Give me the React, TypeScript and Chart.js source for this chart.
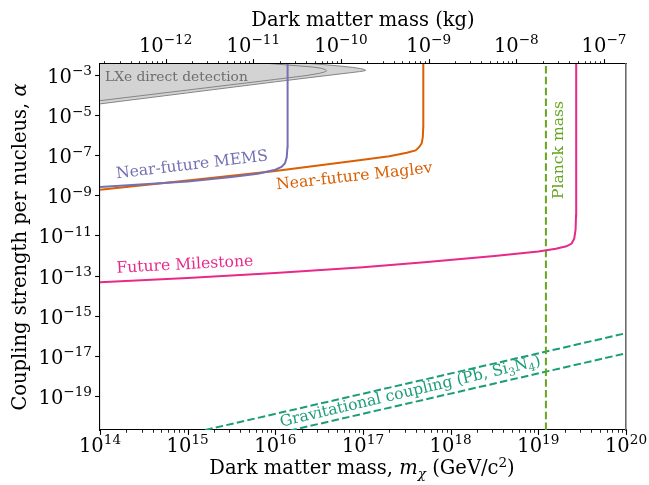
import React, { useEffect, useRef } from "react";
import { Chart, registerables } from "chart.js";

Chart.register(...registerables);

const W = 649;
const H = 485;
const SERIF = '"DejaVu Serif", "Liberation Serif", serif';
const GEV_TO_KG = 1.78266192e-27;

// axis ranges (log10)
const massMinExp = 14;
const massMaxExp = 20;
const alphaMinExp = -20.695;
const alphaMaxExp = -2.452;

// tick labels
const massTickExps = [14, 15, 16, 17, 18, 19, 20];
const kgTickExps = [-12, -11, -10, -9, -8, -7];
const alphaTickExps = [-3, -5, -7, -9, -11, -13, -15, -17, -19];

// Near-future MEMS (log10 GeV, log10 alpha)
const memsLogMass = [14.0, 14.5, 15.0, 15.5, 15.8, 16.0, 16.07, 16.11, 16.13, 16.138, 16.14, 16.14];
const memsLogAlpha = [-8.58, -8.45, -8.31, -8.08, -7.92, -7.72, -7.58, -7.4, -7.1, -6.6, -5.5, -2.0];

// Near-future Maglev
const maglevLogMass = [14.0, 15.0, 16.0, 16.6, 17.0, 17.3, 17.5, 17.6, 17.64, 17.67, 17.682, 17.687, 17.688];
const maglevLogAlpha = [-8.72, -8.26, -7.78, -7.45, -7.23, -7.05, -6.88, -6.76, -6.6, -6.4, -6.1, -5.6, -2.0];

// Future Milestone
const milestoneLogMass = [14.0, 15.0, 16.0, 17.0, 17.7, 18.5, 19.0, 19.2, 19.32, 19.38, 19.41, 19.425, 19.43, 19.432];
const milestoneLogAlpha = [-13.33, -13.12, -12.87, -12.58, -12.33, -12.02, -11.8, -11.66, -11.54, -11.4, -11.15, -10.7, -10.0, -2.0];

// LXe direct detection (outer excluded region, closed shape)
const lxeOuterLogMass = [13.8, 13.8, 14.0, 15.0, 16.0, 16.6, 16.85, 16.96, 17.01, 17.03, 17.02, 16.97, 16.88, 16.75, 16.6, 16.4, 16.1, 15.5, 20.5];
const lxeOuterLogAlpha = [-1.0, -4.55, -4.44, -3.89, -3.34, -3.02, -2.89, -2.83, -2.8, -2.77, -2.73, -2.68, -2.62, -2.56, -2.5, -2.43, -2.3, -2.0, -1.0];

// LXe direct detection (inner contour)
const lxeInnerLogMass = [13.8, 14.0, 15.0, 16.0, 16.35, 16.5, 16.56, 16.585, 16.57, 16.52, 16.42, 16.28, 16.1, 15.8, 15.3];
const lxeInnerLogAlpha = [-4.39, -4.28, -3.75, -3.22, -3.03, -2.92, -2.85, -2.79, -2.73, -2.66, -2.6, -2.55, -2.49, -2.38, -2.15];

// Gravitational coupling lines
const gravPbLogMass = [14, 20];
const gravPbLogAlpha = [-21.9, -15.87];
const gravSiLogMass = [14, 20];
const gravSiLogAlpha = [-22.9, -16.87];

// Planck mass
const planckMassGeV = 1.22e19;
const planckAlphaSpan = [1e-25, 1];

const COLORS = {
  mems: "#7570b3",
  maglev: "#d95f02",
  milestone: "#e7298a",
  planck: "#66a61e",
  grav: "#1b9e77",
  lxeFill: "#d3d3d3",
  lxeEdge: "#858585",
  lxeText: "#6e6e6e",
};

const pts = (xs: number[], ys: number[]) => xs.map((x, i) => ({ x: Math.pow(10, x), y: Math.pow(10, ys[i]) }));

type Run = { text: string; size: number; dy?: number; style?: string };

function setFont(ctx: CanvasRenderingContext2D, r: Run) {
  ctx.font = `${r.style ? r.style + " " : ""}${r.size}px ${SERIF}`;
}

function drawRuns(
  ctx: CanvasRenderingContext2D,
  runs: Run[],
  x: number,
  y: number,
  align: "left" | "center" | "right",
  angleDeg: number,
  color: string
) {
  ctx.save();
  ctx.translate(x, y);
  ctx.rotate((-angleDeg * Math.PI) / 180);
  let w = 0;
  for (const r of runs) {
    setFont(ctx, r);
    w += ctx.measureText(r.text).width;
  }
  let cx = align === "left" ? 0 : align === "center" ? -w / 2 : -w;
  ctx.fillStyle = color;
  ctx.textAlign = "left";
  ctx.textBaseline = "alphabetic";
  for (const r of runs) {
    setFont(ctx, r);
    ctx.fillText(r.text, cx, -(r.dy || 0));
    cx += ctx.measureText(r.text).width;
  }
  ctx.restore();
}

const TICK_FONT = 19.5;
const EXP_FONT = 13.6;
const EXP_RAISE = 7.5;
const LABEL_FONT = 15.6;

const expText = (e: number) => (e < 0 ? "\u2212" + Math.abs(e) : String(e));
const powRuns = (e: number): Run[] => [
  { text: "10", size: TICK_FONT },
  { text: expText(e), size: EXP_FONT, dy: EXP_RAISE },
];

const decorPlugin = {
  id: "decor",
  beforeDraw(chart: any) {
    const ctx = chart.ctx as CanvasRenderingContext2D;
    ctx.save();
    ctx.fillStyle = "#ffffff";
    ctx.fillRect(0, 0, chart.width, chart.height);
    ctx.restore();
  },
  afterDraw(chart: any) {
    const ctx = chart.ctx as CanvasRenderingContext2D;
    const xs = chart.scales.x;
    const ys = chart.scales.y;
    const x2 = chart.scales.x2;
    const a = chart.chartArea;
    const MAJ = 4.9;
    const MIN = 2.8;
    ctx.save();
    ctx.strokeStyle = "#000";
    // bottom ticks
    for (let e = massMinExp; e <= massMaxExp; e++) {
      for (let k = 1; k <= 9; k++) {
        const v = k * Math.pow(10, e);
        if (v > Math.pow(10, massMaxExp) * 1.0001) continue;
        const px = Math.round(xs.getPixelForValue(v)) + 0.5;
        ctx.lineWidth = k === 1 ? 1.1 : 0.85;
        ctx.beginPath();
        ctx.moveTo(px, a.bottom);
        ctx.lineTo(px, a.bottom + (k === 1 ? MAJ : MIN));
        ctx.stroke();
      }
    }
    // top ticks (kg)
    const kgMin = Math.pow(10, massMinExp) * GEV_TO_KG;
    const kgMax = Math.pow(10, massMaxExp) * GEV_TO_KG;
    for (let e = -14; e <= -7; e++) {
      for (let k = 1; k <= 9; k++) {
        const v = k * Math.pow(10, e);
        if (v < kgMin || v > kgMax) continue;
        const px = Math.round(x2.getPixelForValue(v)) + 0.5;
        ctx.lineWidth = k === 1 ? 1.1 : 0.85;
        ctx.beginPath();
        ctx.moveTo(px, a.top);
        ctx.lineTo(px, a.top - (k === 1 ? MAJ : MIN));
        ctx.stroke();
      }
    }
    // left ticks
    for (const e of alphaTickExps) {
      const py = Math.round(ys.getPixelForValue(Math.pow(10, e))) + 0.5;
      ctx.lineWidth = 1.1;
      ctx.beginPath();
      ctx.moveTo(a.left, py);
      ctx.lineTo(a.left - MAJ, py);
      ctx.stroke();
    }
    // tick labels
    for (const e of massTickExps) {
      const px = xs.getPixelForValue(Math.pow(10, e));
      drawRuns(ctx, powRuns(e), px, a.bottom + 21.5, "center", 0, "#000");
    }
    for (const e of kgTickExps) {
      const px = x2.getPixelForValue(Math.pow(10, e));
      drawRuns(ctx, powRuns(e), px, a.top - 12.3, "center", 0, "#000");
    }
    for (const e of alphaTickExps) {
      const py = ys.getPixelForValue(Math.pow(10, e));
      drawRuns(ctx, powRuns(e), a.left - 8, py + 8, "right", 0, "#000");
    }
    // axis titles
    const cx = (a.left + a.right) / 2;
    drawRuns(
      ctx,
      [
        { text: "Dark matter mass, ", size: TICK_FONT },
        { text: "m", size: TICK_FONT, style: "italic" },
        { text: "\u03c7", size: EXP_FONT, style: "italic", dy: -4 },
        { text: " (GeV/c", size: TICK_FONT },
        { text: "2", size: EXP_FONT, dy: EXP_RAISE },
        { text: ")", size: TICK_FONT },
      ],
      cx - 1,
      H - 11,
      "center",
      0,
      "#000"
    );
    drawRuns(ctx, [{ text: "Dark matter mass (kg)", size: TICK_FONT }], cx, 26, "center", 0, "#000");
    drawRuns(
      ctx,
      [
        { text: "Coupling strength per nucleus, ", size: TICK_FONT },
        { text: "\u03b1", size: TICK_FONT, style: "italic" },
      ],
      26,
      (a.top + a.bottom) / 2,
      "center",
      90,
      "#000"
    );

    // annotations
    const P = (lx: number, ly: number): [number, number] => [
      xs.getPixelForValue(Math.pow(10, lx)),
      ys.getPixelForValue(Math.pow(10, ly)),
    ];
    let p = P(14.057, -3.31);
    drawRuns(ctx, [{ text: "LXe direct detection", size: 13.8 }], p[0], p[1], "left", 0, COLORS.lxeText);
    p = P(14.19, -8.15);
    drawRuns(ctx, [{ text: "Near-future MEMS", size: LABEL_FONT }], p[0], p[1], "left", 6.8, COLORS.mems);
    p = P(16.015, -8.7);
    drawRuns(ctx, [{ text: "Near-future Maglev", size: LABEL_FONT }], p[0], p[1], "left", 6.2, COLORS.maglev);
    p = P(14.19, -12.855);
    drawRuns(ctx, [{ text: "Future Milestone", size: LABEL_FONT }], p[0], p[1], "left", 3, COLORS.milestone);
    p = P(19.287, -6.74);
    drawRuns(ctx, [{ text: "Planck mass", size: LABEL_FONT }], p[0], p[1], "center", 90, COLORS.planck);
    p = P(16.067, -20.53);
    drawRuns(
      ctx,
      [
        { text: "Gravitational coupling (Pb, Si", size: LABEL_FONT },
        { text: "3", size: 11, dy: -3.5 },
        { text: "N", size: LABEL_FONT },
        { text: "4", size: 11, dy: -3.5 },
        { text: ")", size: LABEL_FONT },
      ],
      p[0],
      p[1],
      "left",
      13.3,
      COLORS.grav
    );
    ctx.restore();
  },
};

const lineDs = (label: string, data: any[], color: string, extra: any = {}) => ({
  label,
  data,
  showLine: true,
  borderColor: color,
  backgroundColor: color,
  borderWidth: 2,
  pointRadius: 0,
  pointHoverRadius: 0,
  fill: false,
  tension: 0,
  ...extra,
});

export default function App() {
  const ref = useRef<HTMLCanvasElement>(null);
  useEffect(() => {
    const canvas = ref.current;
    if (!canvas) return;
    const kgMin = Math.pow(10, massMinExp) * GEV_TO_KG;
    const kgMax = Math.pow(10, massMaxExp) * GEV_TO_KG;
    const hidden = {
      ticks: { display: false },
      grid: { display: false, drawTicks: false },
      title: { display: false },
    };
    const chart = new Chart(canvas, {
      type: "scatter",
      data: {
        datasets: [
          lineDs("Near-future MEMS", pts(memsLogMass, memsLogAlpha), COLORS.mems),
          lineDs("Near-future Maglev", pts(maglevLogMass, maglevLogAlpha), COLORS.maglev),
          lineDs("Future Milestone", pts(milestoneLogMass, milestoneLogAlpha), COLORS.milestone),
          lineDs(
            "Planck mass",
            planckAlphaSpan.map((y) => ({ x: planckMassGeV, y })),
            COLORS.planck,
            { borderDash: [7.5, 3.3] }
          ),
          lineDs("Gravitational Pb", pts(gravPbLogMass, gravPbLogAlpha), COLORS.grav, { borderDash: [7.5, 3.3] }),
          lineDs("Gravitational Si3N4", pts(gravSiLogMass, gravSiLogAlpha), COLORS.grav, { borderDash: [7.5, 3.3] }),
          lineDs("LXe inner", pts(lxeInnerLogMass, lxeInnerLogAlpha), COLORS.lxeEdge, { borderWidth: 1 }),
          lineDs("LXe direct detection", pts(lxeOuterLogMass, lxeOuterLogAlpha), COLORS.lxeEdge, {
            borderWidth: 1,
            fill: "shape",
            backgroundColor: COLORS.lxeFill,
          }),
        ],
      },
      options: {
        animation: false,
        responsive: false,
        maintainAspectRatio: false,
        layout: { padding: 0 },
        plugins: { legend: { display: false }, tooltip: { enabled: false } },
        events: [],
        scales: {
          x: {
            type: "logarithmic",
            position: "bottom",
            min: Math.pow(10, massMinExp),
            max: Math.pow(10, massMaxExp),
            ...hidden,
            border: { display: true, color: "#000", width: 1.1 },
            z: 1,
            afterFit: (s: any) => {
              s.height = 55;
            },
          },
          x2: {
            type: "logarithmic",
            position: "top",
            min: kgMin,
            max: kgMax,
            ...hidden,
            border: { display: true, color: "#000", width: 1.1 },
            z: 1,
            afterFit: (s: any) => {
              s.height = 64;
            },
          },
          y: {
            type: "logarithmic",
            position: "left",
            min: Math.pow(10, alphaMinExp),
            max: Math.pow(10, alphaMaxExp),
            ...hidden,
            border: { display: true, color: "#000", width: 1.1 },
            z: 1,
            afterFit: (s: any) => {
              s.width = 100;
            },
          },
          y2: {
            type: "logarithmic",
            position: "right",
            min: Math.pow(10, alphaMinExp),
            max: Math.pow(10, alphaMaxExp),
            ...hidden,
            border: { display: true, color: "#6a6a6a", width: 1.6 },
            z: 1,
            afterFit: (s: any) => {
              s.width = 23;
            },
          },
        },
      } as any,
      plugins: [decorPlugin],
    } as any);
    return () => chart.destroy();
  }, []);
  return (
    <div style={{ position: "fixed", left: 0, top: 0, width: W, height: H, background: "#fff" }}>
      <canvas ref={ref} width={W} height={H} style={{ display: "block", width: W, height: H }} />
    </div>
  );
}
